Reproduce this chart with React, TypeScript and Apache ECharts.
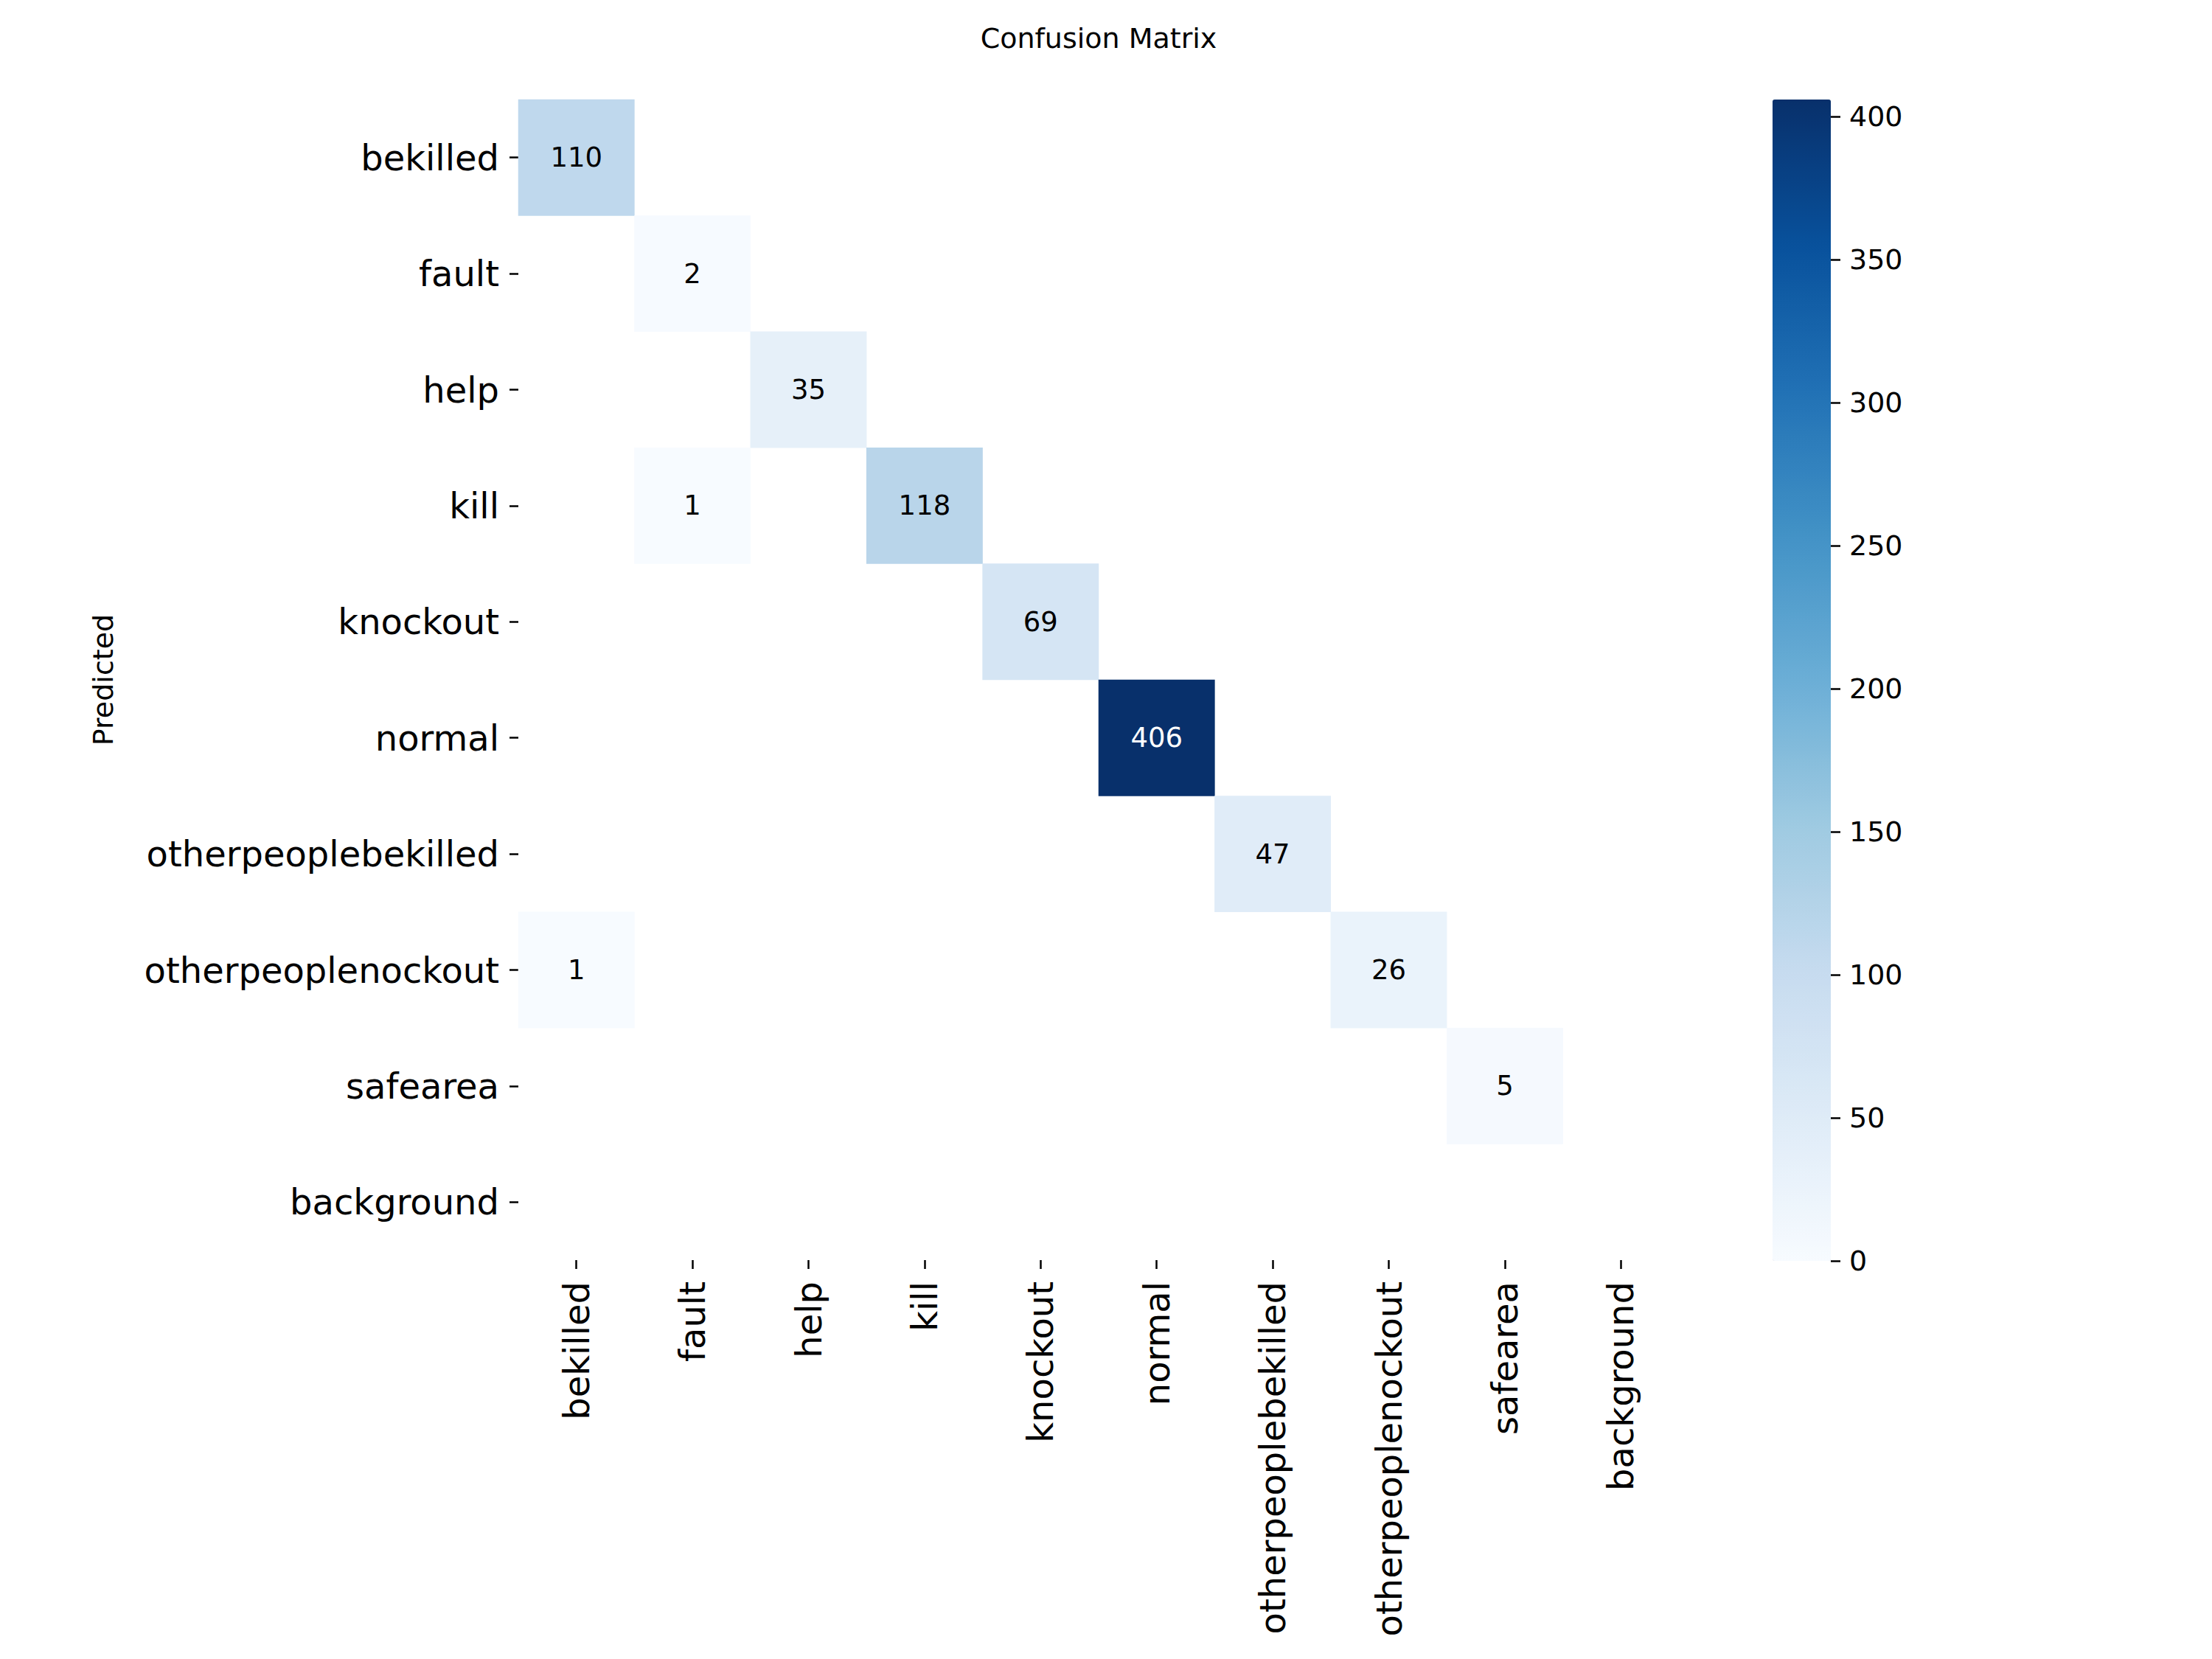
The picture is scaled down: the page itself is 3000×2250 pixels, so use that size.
import React, { useEffect, useRef } from "react";
import * as echarts from "echarts";

// Class names shared by both axes (true classes along x, predicted along y)
const classNames = [
  "bekilled",
  "fault",
  "help",
  "kill",
  "knockout",
  "normal",
  "otherpeoplebekilled",
  "otherpeoplenockout",
  "safearea",
  "background",
];

// One row of counts per predicted class; columns follow classNames (true class)
const rowBekilled = [110, 0, 0, 0, 0, 0, 0, 0, 0, 0];
const rowFault = [0, 2, 0, 0, 0, 0, 0, 0, 0, 0];
const rowHelp = [0, 0, 35, 0, 0, 0, 0, 0, 0, 0];
const rowKill = [0, 1, 0, 118, 0, 0, 0, 0, 0, 0];
const rowKnockout = [0, 0, 0, 0, 69, 0, 0, 0, 0, 0];
const rowNormal = [0, 0, 0, 0, 0, 406, 0, 0, 0, 0];
const rowOtherBekilled = [0, 0, 0, 0, 0, 0, 47, 0, 0, 0];
const rowOtherNockout = [1, 0, 0, 0, 0, 0, 0, 26, 0, 0];
const rowSafearea = [0, 0, 0, 0, 0, 0, 0, 0, 5, 0];
const rowBackground = [0, 0, 0, 0, 0, 0, 0, 0, 0, 0];

const countRows = [
  rowBekilled,
  rowFault,
  rowHelp,
  rowKill,
  rowKnockout,
  rowNormal,
  rowOtherBekilled,
  rowOtherNockout,
  rowSafearea,
  rowBackground,
];

// Colour scale range and colour bar tick spacing
const scaleMin = 0;
const scaleMax = 406;
const colorbarTickStep = 50;
const colorbarTickTop = 400;

// matplotlib "Blues" anchor colours
const bluesRamp = [
  "#f7fbff",
  "#deebf7",
  "#c6dbef",
  "#9ecae1",
  "#6baed6",
  "#4292c6",
  "#2171b5",
  "#08519c",
  "#08306b",
];

const FONT = "DejaVu Sans";

export default function App() {
  const ref = useRef<HTMLDivElement>(null);

  useEffect(() => {
    if (!ref.current) return;
    const chart = echarts.init(ref.current, undefined, { renderer: "svg" });

    // Only non-zero cells are drawn; empty cells stay blank
    const cells: any[] = [];
    countRows.forEach((row, r) => {
      row.forEach((v, c) => {
        if (v > 0) {
          cells.push({
            value: [c, r, v],
            label: { color: v > 0.6 * scaleMax ? "#ffffff" : "#000000" },
          });
        }
      });
    });

    // Heatmap area
    const gridLeft = 703;
    const gridTop = 135;
    const gridSize = 1574;

    // Colour bar area (scaleMin..scaleMax spans the full bar height)
    const barLeft = 2404;
    const barTop = 135;
    const barWidth = 79;
    const barHeight = 1575;
    // Tick axis covers scaleMin..colorbarTickTop on the same pixel scale
    const tickAxisHeight = (barHeight * (colorbarTickTop - scaleMin)) / (scaleMax - scaleMin);
    const tickAxisTop = barTop + barHeight - tickAxisHeight;

    chart.setOption({
      animation: false,
      backgroundColor: "#ffffff",
      textStyle: { fontFamily: FONT },
      grid: [
        { left: gridLeft, top: gridTop, width: gridSize, height: gridSize },
        { left: barLeft, top: tickAxisTop, width: barWidth, height: tickAxisHeight },
      ],
      xAxis: [
        {
          type: "category",
          gridIndex: 0,
          data: classNames,
          position: "bottom",
          axisLine: { show: false },
          axisTick: {
            show: true,
            alignWithLabel: true,
            interval: 0,
            length: 12,
            lineStyle: { color: "#000", width: 2.5 },
          },
          axisLabel: {
            interval: 0,
            rotate: 90,
            margin: 29,
            fontSize: 48,
            fontFamily: FONT,
            color: "#000",
          },
          splitLine: { show: false },
          splitArea: { show: false },
        },
        {
          type: "value",
          gridIndex: 1,
          show: false,
          min: 0,
          max: 1,
          axisLine: { show: false, onZero: false },
        },
      ],
      yAxis: [
        {
          type: "category",
          gridIndex: 0,
          data: classNames,
          inverse: true,
          axisLine: { show: false },
          axisTick: {
            show: true,
            alignWithLabel: true,
            interval: 0,
            length: 12,
            lineStyle: { color: "#000", width: 2.5 },
          },
          axisLabel: {
            interval: 0,
            margin: 26,
            fontSize: 48,
            fontFamily: FONT,
            color: "#000",
          },
          splitLine: { show: false },
          splitArea: { show: false },
        },
        {
          type: "value",
          gridIndex: 1,
          position: "right",
          min: scaleMin,
          max: colorbarTickTop,
          interval: colorbarTickStep,
          axisLine: { show: false, onZero: false },
          splitLine: { show: false },
          axisTick: {
            show: true,
            length: 13,
            lineStyle: { color: "#000", width: 2.5 },
          },
          axisLabel: {
            margin: 25,
            fontSize: 38,
            fontFamily: FONT,
            color: "#000",
          },
        },
      ],
      visualMap: {
        type: "continuous",
        seriesIndex: 0,
        min: scaleMin,
        max: scaleMax,
        calculable: false,
        orient: "vertical",
        left: barLeft,
        top: barTop,
        padding: 0,
        itemWidth: barWidth,
        itemHeight: barHeight,
        text: null,
        hoverLink: false,
        indicatorSize: 0,
        inRange: { color: bluesRamp },
      },
      graphic: [
        {
          type: "text",
          x: 1490,
          y: 52,
          style: {
            text: "Confusion Matrix",
            fontSize: 38,
            fontFamily: FONT,
            fill: "#000",
            textAlign: "center",
            textVerticalAlign: "middle",
          },
        },
        {
          type: "text",
          x: 140,
          y: 922,
          rotation: Math.PI / 2,
          style: {
            text: "Predicted",
            fontSize: 38,
            fontFamily: FONT,
            fill: "#000",
            textAlign: "center",
            textVerticalAlign: "middle",
          },
        },
      ],
      series: [
        {
          type: "heatmap",
          xAxisIndex: 0,
          yAxisIndex: 0,
          data: cells,
          label: {
            show: true,
            fontSize: 37,
            fontFamily: FONT,
            formatter: (p: any) => String(p.value[2]),
          },
          itemStyle: { borderWidth: 0 },
          emphasis: { disabled: true },
        },
        {
          type: "scatter",
          xAxisIndex: 1,
          yAxisIndex: 1,
          data: [],
        },
      ],
    });

    return () => chart.dispose();
  }, []);

  return (
    <div
      ref={ref}
      style={{ position: "absolute", left: 0, top: 0, width: 3000, height: 2250 }}
    />
  );
}
